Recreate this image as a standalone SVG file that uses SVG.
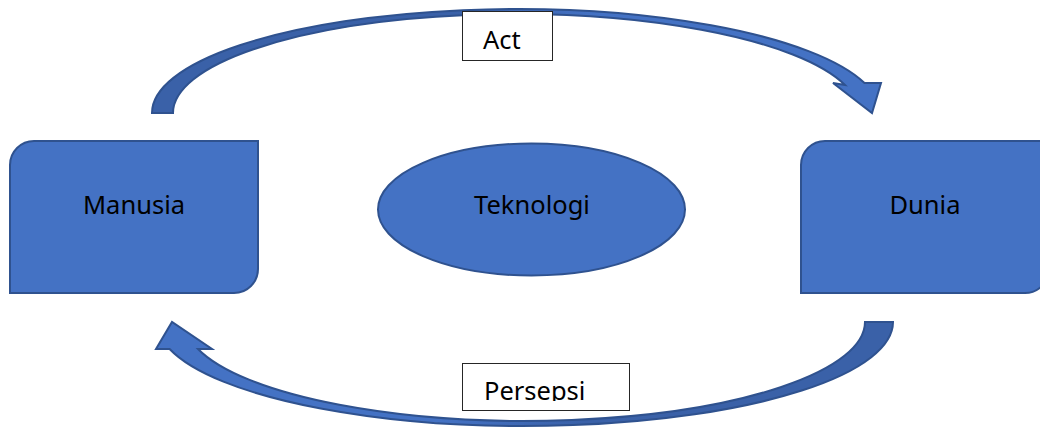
<svg xmlns="http://www.w3.org/2000/svg" width="1040" height="428" viewBox="0 0 1040 428">
<style>
.node{fill:#4472C4;stroke:#2F528F;stroke-width:2}
.arrow{stroke:#2F528F;stroke-width:2;stroke-linejoin:miter}
.lblbox{fill:#FFFFFF;stroke:#262626;stroke-width:1}
.t{font-family:"Noto Sans","Open Sans",sans-serif;font-size:25.5px;fill:#000000}
</style>
<defs>
<linearGradient id="gTop" gradientUnits="userSpaceOnUse" x1="150" y1="0" x2="880" y2="0">
<stop offset="0" stop-color="#3A61A8"/>
<stop offset="0.42" stop-color="#3A61A8"/>
<stop offset="0.62" stop-color="#4472C4"/>
<stop offset="1" stop-color="#4472C4"/>
</linearGradient>
<linearGradient id="gBot" gradientUnits="userSpaceOnUse" x1="893" y1="0" x2="160" y2="0">
<stop offset="0" stop-color="#3A61A8"/>
<stop offset="0.42" stop-color="#3A61A8"/>
<stop offset="0.62" stop-color="#4472C4"/>
<stop offset="1" stop-color="#4472C4"/>
</linearGradient>
<clipPath id="clipPersepsi">
<rect x="463" y="363" width="167" height="38"/>
</clipPath>
</defs>
<g id="connectors">
<path id="arrow-act" class="arrow" fill="url(#gTop)" d="M152,113 A364,104 0 0 1 864.5,83 L881,83 L872,113 L833,83 L845,85 A343,99 0 0 0 173,113 Z"/>
<path id="arrow-persepsi" class="arrow" fill="url(#gBot)" d="M893,322 A368,104 0 0 1 169.6,349 L156,349 L172,322 L212,349 L198,349 A340,99 0 0 0 865,322 Z"/>
<g id="label-act">
<rect class="lblbox" x="462.5" y="11.5" width="90" height="49"/>
<text class="t" x="483" y="49" font-size="26.5">Act</text>
</g>
<g id="label-persepsi">
<rect class="lblbox" x="462.5" y="363.5" width="167" height="47"/>
<text class="t" x="484" y="399.5" font-size="24.6" clip-path="url(#clipPersepsi)">Persepsi</text>
</g>
</g>
<g id="node-manusia">
<path class="node" d="M34,141 H258 V269 A24,24 0 0 1 234,293 H10 V165 A24,24 0 0 1 34,141 Z"/>
<text class="t" x="134" y="214" text-anchor="middle">Manusia</text>
</g>
<g id="node-teknologi">
<ellipse class="node" cx="531.5" cy="209.5" rx="153.5" ry="66"/>
<text class="t" x="532" y="214" text-anchor="middle">Teknologi</text>
</g>
<g id="node-dunia">
<path class="node" d="M825,141 H1049 V269 A24,24 0 0 1 1025,293 H801 V165 A24,24 0 0 1 825,141 Z"/>
<text class="t" x="925" y="214" text-anchor="middle">Dunia</text>
</g>
</svg>
